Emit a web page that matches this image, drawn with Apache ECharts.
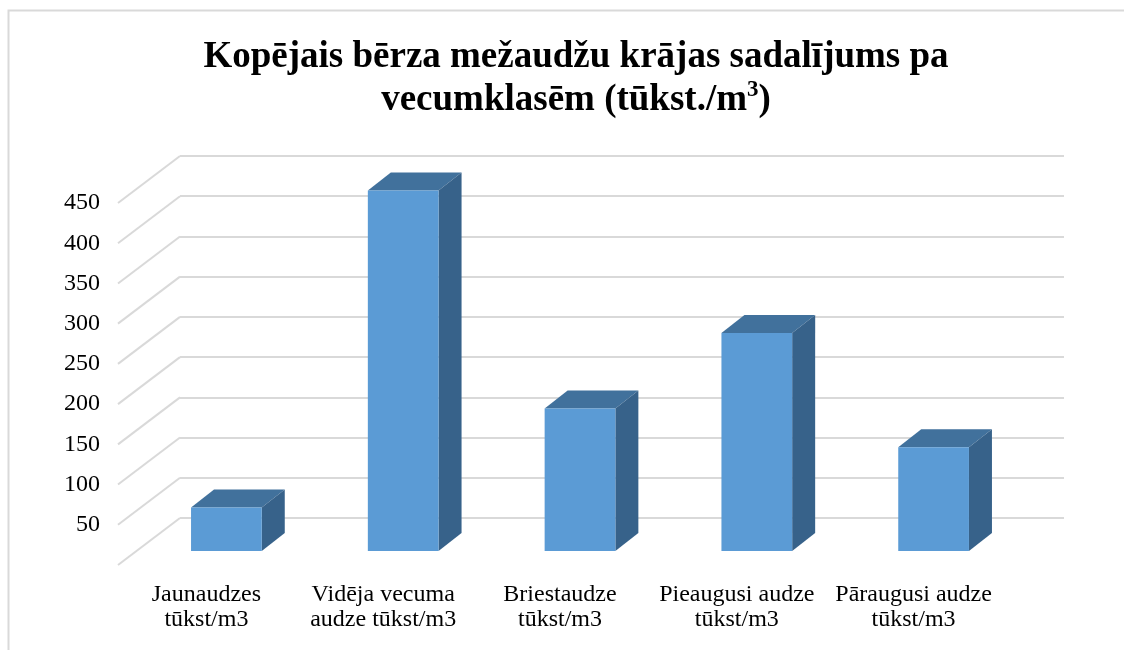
<!DOCTYPE html>
<html>
<head>
<meta charset="utf-8">
<script src="https://cdn.jsdelivr.net/npm/echarts@6/dist/echarts.min.js"></script>
<style>
  html, body { margin: 0; padding: 0; background: #fff; }
  #chart { width: 1124px; height: 650px; }
</style>
</head>
<body>
<div id="chart"></div>
<script>
  // dati
  var categories = [
    'Jaunaudzes\ntūkst/m3',
    'Vidēja vecuma\naudze tūkst/m3',
    'Briestaudze\ntūkst/m3',
    'Pieaugusi audze\ntūkst/m3',
    'Pāraugusi audze\ntūkst/m3'
  ];
  var values = [54, 448, 177, 271, 129];
  var yTicks = [0, 50, 100, 150, 200, 250, 300, 350, 400, 450];

  // pseudo 3D nobīdes (grīdas dziļums un stabiņa dziļums)
  var floorDx = 62, floorDy = 47;
  var barDx = 23, barDy = 18;

  var serif = "'Liberation Serif', 'Times New Roman', serif";
  var gridColor = '#d9d9d9';

  function yAxisBase(idx) {
    return {
      type: 'value',
      gridIndex: idx,
      min: yTicks[0],
      max: yTicks[yTicks.length - 1],
      interval: yTicks[1] - yTicks[0],
      axisLine: { show: false },
      axisTick: { show: false },
      axisLabel: { show: false },
      splitLine: { show: false }
    };
  }

  function xAxisBase(idx) {
    return {
      type: 'category',
      gridIndex: idx,
      data: categories,
      axisLine: { show: false },
      axisTick: { show: false },
      axisLabel: { show: false },
      splitLine: { show: false }
    };
  }

  var backY = yAxisBase(0);
  backY.splitLine = { show: true, lineStyle: { color: gridColor, width: 2 } };

  var frontY = yAxisBase(2);
  frontY.axisLabel = {
    show: true,
    showMinLabel: false,
    margin: 18,
    color: '#000',
    fontFamily: serif,
    fontSize: 24
  };

  var frontX = xAxisBase(2);
  frontX.axisLabel = {
    show: true,
    interval: 0,
    margin: 17,
    color: '#000',
    fontFamily: serif,
    fontSize: 24,
    lineHeight: 25
  };

  var chart = echarts.init(document.getElementById('chart'));

  chart.setOption({
    animation: false,
    backgroundColor: '#fff',
    title: {
      text: 'Kopējais bērza mežaudžu krājas sadalījums pa\nvecumklasēm (tūkst./m{sup|3})',
      left: 571,
      textAlign: 'center',
      top: 31,
      textStyle: {
        fontFamily: serif,
        fontWeight: 'bold',
        fontSize: 37,
        lineHeight: 43,
        color: '#000',
        rich: {
          sup: {
            fontFamily: serif,
            fontWeight: 'bold',
            fontSize: 23,
            lineHeight: 30,
            verticalAlign: 'top',
            color: '#000'
          }
        }
      }
    },
    graphic: [{
      type: 'rect',
      silent: true,
      shape: { x: 8.5, y: 10.5, width: 1200, height: 700 },
      style: { fill: 'none', stroke: gridColor, lineWidth: 2 }
    }],
    grid: [
      { left: 180, right: 60, top: 156, bottom: 132 },   // aizmugures siena
      { left: 138, right: 102, top: 189, bottom: 99 },   // stabiņu priekšplakne
      { left: 118, right: 122, top: 203, bottom: 85 }    // grīdas priekšmala
    ],
    xAxis: [xAxisBase(0), xAxisBase(1), frontX],
    yAxis: [backY, yAxisBase(1), frontY],
    series: [
      {
        // slīpās režģa līnijas uz grīdas
        type: 'custom',
        xAxisIndex: 0,
        yAxisIndex: 0,
        silent: true,
        data: yTicks.map(function (v) { return [0, v]; }),
        renderItem: function (params, api) {
          var cs = params.coordSys;
          var y = api.coord([0, api.value(1)])[1];
          return {
            type: 'line',
            shape: { x1: cs.x, y1: y, x2: cs.x - floorDx, y2: y + floorDy },
            style: { stroke: gridColor, lineWidth: 2 }
          };
        },
        z: 1
      },
      {
        type: 'custom',
        xAxisIndex: 1,
        yAxisIndex: 1,
        data: values.map(function (v, i) { return [i, v]; }),
        renderItem: function (params, api) {
          var top = api.coord([api.value(0), api.value(1)]);
          var base = api.coord([api.value(0), 0]);
          var w = api.size([1, 0])[0] * 0.4;
          var x0 = top[0] - w / 2, x1 = top[0] + w / 2;
          var yT = top[1], yB = base[1];
          return {
            type: 'group',
            children: [
              {
                type: 'polygon',
                shape: { points: [[x0, yT], [x1, yT], [x1 + barDx, yT - barDy], [x0 + barDx, yT - barDy]] },
                style: { fill: '#41719C' }
              },
              {
                type: 'polygon',
                shape: { points: [[x1, yT], [x1 + barDx, yT - barDy], [x1 + barDx, yB - barDy], [x1, yB]] },
                style: { fill: '#37628A' }
              },
              {
                type: 'rect',
                shape: { x: x0, y: yT, width: w, height: yB - yT },
                style: { fill: '#5B9BD5' }
              }
            ]
          };
        },
        z: 2
      }
    ]
  });
</script>
</body>
</html>
